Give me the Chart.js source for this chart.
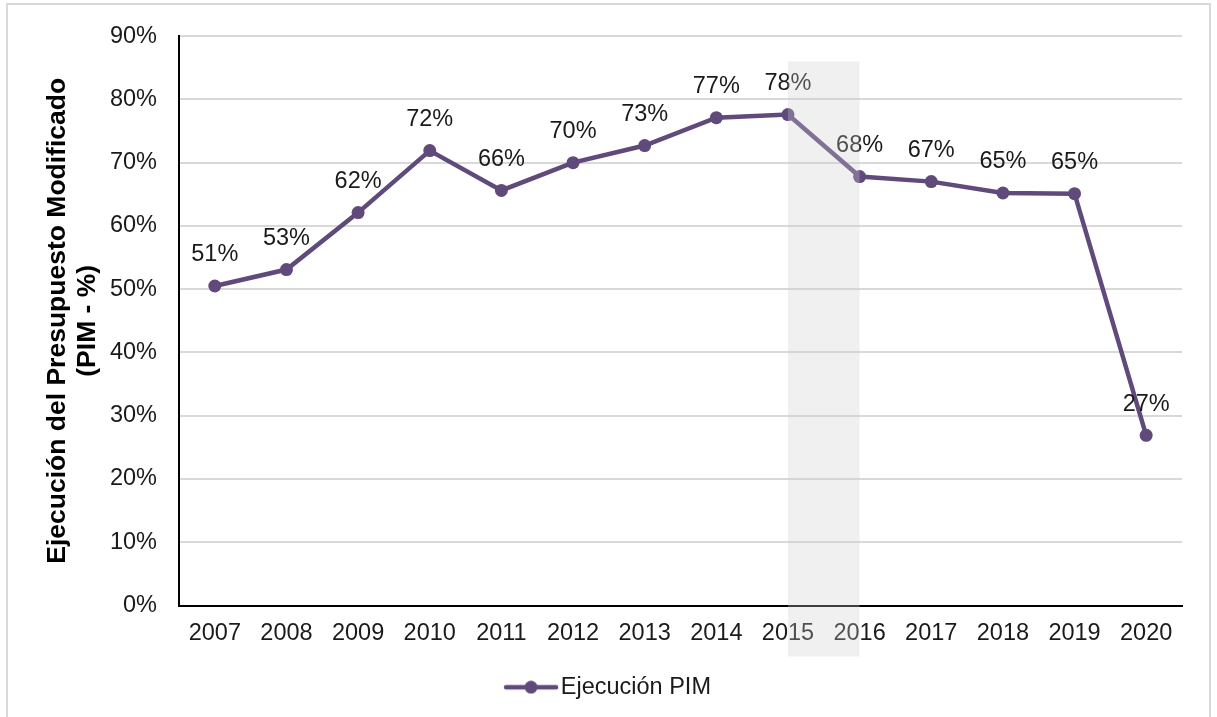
<!DOCTYPE html>
<html lang="es">
<head>
  <meta charset="UTF-8" />
  <title>Ejecución PIM 2007-2020</title>
  <script src="https://cdn.jsdelivr.net/npm/chart.js"></script>
  <style>
    html, body { margin: 0; padding: 0; background: #fff; }
    .frame {
      position: absolute;
      left: 6px; top: 3px;
      width: 1201px; height: 760px;
      border: 2px solid #d9d9d9;
    }
    .chart-container {
      position: absolute;
      left: 0; top: 0;
      width: 1217px; height: 717px;
    }
  </style>
</head>
<body>
  <div class="frame"></div>
  <div class="chart-container">
    <canvas id="pimChart"></canvas>
  </div>

  <script>
    const years = ['2007', '2008', '2009', '2010', '2011', '2012', '2013',
      '2014', '2015', '2016', '2017', '2018', '2019', '2020'];

    // porcentaje de ejecución del PIM
    const ejecucion = [50.5, 53.1, 62.1, 71.9, 65.6, 70.0, 72.7,
      77.1, 77.6, 67.8, 67.0, 65.2, 65.1, 26.9];

    const yTicks = [0, 10, 20, 30, 40, 50, 60, 70, 80, 90];

    // periodo resaltado
    const shadedYears = ['2015', '2016'];
    const shadeTop = 86;

    const purple = '#604A7B';
    const font = 'Liberation Sans';
    const textSize = 23.5;

    // marcador de la leyenda: línea con punto
    const legendMark = document.createElement('canvas');
    legendMark.width = 56;
    legendMark.height = 14;
    (function () {
      const c = legendMark.getContext('2d');
      c.strokeStyle = purple;
      c.lineWidth = 4.5;
      c.lineCap = 'round';
      c.beginPath();
      c.moveTo(3, 7);
      c.lineTo(53, 7);
      c.stroke();
      c.fillStyle = purple;
      c.beginPath();
      c.arc(28, 7, 6.5, 0, Math.PI * 2);
      c.fill();
    })();

    const valueLabels = {
      id: 'valueLabels',
      afterDatasetsDraw(chart) {
        const ctx = chart.ctx;
        const meta = chart.getDatasetMeta(0);
        ctx.save();
        ctx.font = `${textSize}px "${font}"`;
        ctx.fillStyle = '#1a1a1a';
        ctx.textAlign = 'center';
        ctx.textBaseline = 'middle';
        meta.data.forEach((pt, i) => {
          ctx.fillText(Math.round(ejecucion[i]) + '%', pt.x, pt.y - 31);
        });
        ctx.restore();
      }
    };

    const shadeBand = {
      id: 'shadeBand',
      afterDraw(chart) {
        const { ctx, chartArea } = chart;
        const x = chart.scales.x, y = chart.scales.y;
        const x1 = x.getPixelForValue(years.indexOf(shadedYears[0]));
        const x2 = x.getPixelForValue(years.indexOf(shadedYears[1]));
        const top = y.getPixelForValue(shadeTop);
        const bottom = chartArea.bottom + 51;
        ctx.save();
        ctx.fillStyle = 'rgba(204, 204, 204, 0.3)';
        ctx.fillRect(x1, top, x2 - x1, bottom - top);
        ctx.restore();
      }
    };

    new Chart(document.getElementById('pimChart'), {
      type: 'line',
      data: {
        labels: years,
        datasets: [{
          label: 'Ejecución PIM',
          data: ejecucion,
          borderColor: purple,
          backgroundColor: purple,
          borderWidth: 4.5,
          pointRadius: 6.5,
          pointHoverRadius: 6.5,
          pointBackgroundColor: purple,
          pointBorderWidth: 0,
          tension: 0
        }]
      },
      options: {
        responsive: true,
        maintainAspectRatio: false,
        animation: false,
        layout: { padding: { left: 42, right: 35, top: 35, bottom: 8 } },
        plugins: {
          tooltip: { enabled: false },
          legend: {
            position: 'bottom',
            labels: {
              usePointStyle: true,
              pointStyle: legendMark,
              pointStyleWidth: 36,
              color: '#1a1a1a',
              font: { family: font, size: textSize },
              padding: 10
            }
          }
        },
        scales: {
          x: {
            offset: true,
            afterFit: (scale) => { scale.height = 60; },
            grid: { display: false, drawTicks: false },
            border: { display: true, color: '#000', width: 2 },
            ticks: {
              color: '#1a1a1a',
              font: { family: font, size: textSize },
              padding: 14,
              maxRotation: 0,
              autoSkip: false
            }
          },
          y: {
            min: 0,
            max: 90,
            afterBuildTicks: (scale) => {
              scale.ticks = yTicks.map(v => ({ value: v }));
            },
            afterFit: (scale) => { scale.width = 137; },
            grid: {
              color: (c) => c.tick.value === 0 ? 'transparent' : '#d9d9d9',
              lineWidth: 2,
              drawTicks: false
            },
            border: { display: true, color: '#000', width: 2 },
            ticks: {
              color: '#1a1a1a',
              font: { family: font, size: textSize },
              padding: 22,
              callback: (v) => v + '%'
            },
            title: {
              display: true,
              text: ['Ejecución del Presupuesto Modificado', '(PIM - %)'],
              color: '#000',
              font: { family: font, size: 26.5, weight: 'bold', lineHeight: 1.15 },
              padding: 0
            }
          }
        }
      },
      plugins: [valueLabels, shadeBand]
    });
  </script>
</body>
</html>
